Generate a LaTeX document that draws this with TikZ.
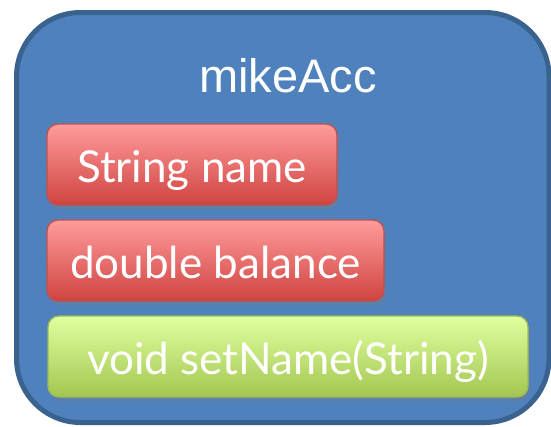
\documentclass[tikz,border=0pt]{standalone}
\usepackage{fontspec}
\setmainfont{Lato}
\newfontfamily\titlefont{Liberation Sans}
\definecolor{outerfill}{HTML}{4F81BD}
\definecolor{outerdraw}{HTML}{3A628F}
\definecolor{redtop}{HTML}{FF9C9C}
\definecolor{redbot}{HTML}{CF4340}
\definecolor{reddraw}{HTML}{C0504D}
\definecolor{greentop}{HTML}{E0FFA0}
\definecolor{greenbot}{HTML}{A3C650}
\definecolor{greendraw}{HTML}{9BBB59}
\definecolor{shadowc}{HTML}{5F7FA6}
\tikzset{
  membox/.style={rounded corners=11pt, line width=1.3pt},
  redbox/.style={membox, draw=reddraw, top color=redtop, bottom color=redbot},
  greenbox/.style={membox, draw=greendraw, top color=greentop, bottom color=greenbot},
  shadowbox/.style={rounded corners=11pt, fill=shadowc},
  memtext/.style={text=white, font=\fontsize{44}{48}\selectfont, anchor=base},
  titletext/.style={text=white, font=\titlefont\fontsize{47}{52}\selectfont, anchor=base}
}
\begin{document}
\begin{tikzpicture}[x=1pt,y=-1pt]
\useasboundingbox (0,0) rectangle (551,426);
\begin{scope}
\clip (0,0) rectangle (551,426);
\draw[line width=5pt, draw=outerdraw, fill=outerfill, rounded corners=64pt] (16.5,12.5) rectangle (549,422.5);
\end{scope}
\node[titletext] (title) at (288,92) {mikeAcc};
% shadows
\fill[shadowbox] (49,128) rectangle (339,209);
\fill[shadowbox] (49,224) rectangle (386,305);
\fill[shadowbox] (50,320) rectangle (530,401);
% boxes
\draw[redbox] (47,124) rectangle (337,205);
\draw[redbox] (47,220) rectangle (384,301);
\draw[greenbox] (48,316) rectangle (528,397);
\node[memtext] (name) at (192,182) {String name};
\node[memtext] (balance) at (215.5,278) {double balance};
\node[memtext] (setname) at (288,374) {void setName(String)};
\end{tikzpicture}
\end{document}
